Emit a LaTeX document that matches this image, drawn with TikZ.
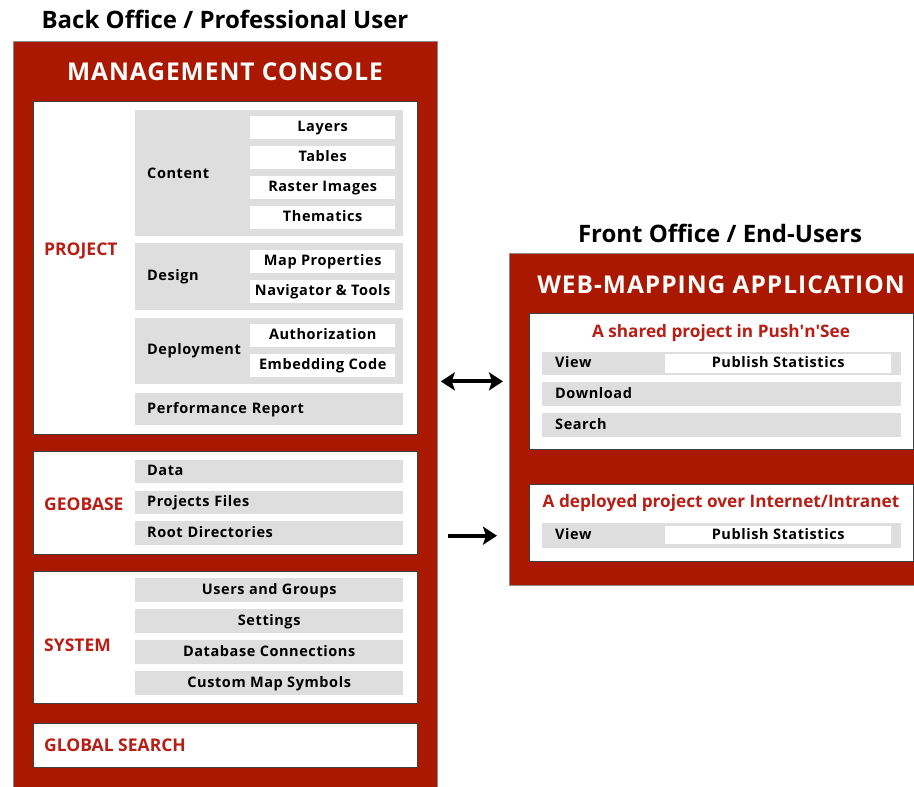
\documentclass[tikz,border=0pt]{standalone}
\usepackage{fontspec}
\setmainfont{Open Sans}
\newfontfamily\itemfont{Open Sans}[LetterSpace=4]
\usetikzlibrary{arrows.meta}

\definecolor{consolered}{RGB}{170,24,0}
\definecolor{labelred}{RGB}{183,30,22}
\definecolor{bargray}{RGB}{222,222,222}

\newcommand{\itemsize}{\itemfont\bfseries\fontsize{14.5pt}{17pt}\selectfont}
\newcommand{\titlesize}{\bfseries\fontsize{24pt}{28pt}\selectfont}
\newcommand{\headsize}{\itemfont\bfseries\fontsize{24.5pt}{28pt}\selectfont}
\newcommand{\subtitlesize}{\bfseries\fontsize{17.2pt}{20pt}\selectfont}

\tikzset{
  redpanel/.style={fill=consolered, draw=black!45, line width=0.8pt, inner sep=0pt, anchor=north west},
  whitepanel/.style={fill=white, draw=black!75, line width=0.8pt, inner sep=0pt, anchor=north west},
  graybar/.style={fill=bargray, inner sep=0pt, anchor=north west, font=\itemsize,
                  text height=11pt, text depth=3pt},
  barleft/.style={graybar, text width=#1, inner xsep=12pt, align=left},
  itembox/.style={fill=white, inner sep=0pt, anchor=north west, font=\itemsize,
                  text height=11pt, text depth=3pt},
  barlabel/.style={anchor=west, inner sep=0pt, font=\itemsize},
  sectlabel/.style={anchor=west, inner sep=0pt, text=labelred, font=\bfseries\fontsize{17.5pt}{20pt}\selectfont},
  bigarrow/.style={line width=4pt, -{Stealth[length=14pt,width=18pt,inset=3pt]}},
}

\begin{document}
\begin{tikzpicture}[x=1pt,y=-1pt]
  \useasboundingbox (0,0) rectangle (914,787);

  % back office
  \node[font=\titlesize] (backtitle) at (225,19) {Back Office / Professional User};
  \node[redpanel, minimum width=424pt, minimum height=760pt] (console) at (13,41) {};
  \node[font=\headsize, text=white] (consoletitle) at (225,72) {MANAGEMENT CONSOLE};

  \node[whitepanel, minimum width=384pt, minimum height=333pt] (project) at (33,101) {};
  \node[sectlabel] (projectlabel) at (44,251) {PROJECT};

  \node[graybar, minimum width=268pt, minimum height=126pt] (content) at (135,110) {};
  \node[barlabel] (contentlabel) at ([xshift=12pt]content.west) {Content};
  \node[itembox, minimum width=145pt, minimum height=23pt] (layers) at (250,116) {Layers};
  \node[itembox, minimum width=145pt, minimum height=23pt] (tables) at (250,146) {Tables};
  \node[itembox, minimum width=145pt, minimum height=23pt] (raster) at (250,176) {Raster Images};
  \node[itembox, minimum width=145pt, minimum height=23pt] (thematics) at (250,206) {Thematics};

  \node[graybar, minimum width=268pt, minimum height=67pt] (design) at (135,243) {};
  \node[barlabel] (designlabel) at ([xshift=12pt]design.west) {Design};
  \node[itembox, minimum width=145pt, minimum height=23pt] (mapprops) at (250,250) {Map Properties};
  \node[itembox, minimum width=145pt, minimum height=23pt] (navtools) at (250,280) {Navigator \& Tools};

  \node[graybar, minimum width=268pt, minimum height=66pt] (deploy) at (135,318) {};
  \node[barlabel] (deploylabel) at ([xshift=12pt]deploy.west) {Deployment};
  \node[itembox, minimum width=145pt, minimum height=23pt] (authz) at (250,324) {Authorization};
  \node[itembox, minimum width=145pt, minimum height=23pt] (embed) at (250,354) {Embedding Code};

  \node[barleft=244pt, minimum height=32pt] (perf) at (135,393) {Performance Report};

  \node[whitepanel, minimum width=384pt, minimum height=103pt] (geobase) at (33,451) {};
  \node[sectlabel] (geobaselabel) at (44,504) {GEOBASE};
  \node[barleft=244pt, minimum height=23pt] (data) at (135,460) {Data};
  \node[barleft=244pt, minimum height=23pt] (projfiles) at (135,491) {Projects Files};
  \node[barleft=244pt, minimum height=24pt] (rootdirs) at (135,521) {Root Directories};

  \node[whitepanel, minimum width=384pt, minimum height=132pt] (system) at (33,571) {};
  \node[sectlabel] (systemlabel) at (44,645) {SYSTEM};
  \node[graybar, minimum width=268pt, minimum height=24pt] (users) at (135,578) {Users and Groups};
  \node[graybar, minimum width=268pt, minimum height=24pt] (settings) at (135,609) {Settings};
  \node[graybar, minimum width=268pt, minimum height=24pt] (dbconn) at (135,640) {Database Connections};
  \node[graybar, minimum width=268pt, minimum height=24pt] (symbols) at (135,671) {Custom Map Symbols};

  \node[whitepanel, minimum width=384pt, minimum height=44pt] (search) at (33,723) {};
  \node[sectlabel] (searchlabel) at (44,745) {GLOBAL SEARCH};

  % front office
  \node[font=\titlesize] (fronttitle) at (720,233) {Front Office / End-Users};
  \node[redpanel, minimum width=410pt, minimum height=332pt] (webapp) at (509,253) {};
  \node[font=\headsize, text=white] (webtitle) at (721,285) {WEB-MAPPING APPLICATION};

  \node[whitepanel, minimum width=384pt, minimum height=136pt] (shared) at (529,313) {};
  \node[text=labelred, font=\subtitlesize] (sharedtitle) at (721,333) {A shared project in Push\textquotesingle n\textquotesingle See};
  \node[barleft=333pt, inner xsep=13pt, minimum height=23pt] (view) at (542,352) {View};
  \node[itembox, minimum width=226pt, minimum height=19pt] (publish) at (665,354) {Publish Statistics};
  \node[barleft=333pt, inner xsep=13pt, minimum height=24pt] (download) at (542,382) {Download};
  \node[barleft=333pt, inner xsep=13pt, minimum height=24pt] (websearch) at (542,413) {Search};

  \node[whitepanel, minimum width=384pt, minimum height=77pt] (deployed) at (529,484) {};
  \node[text=labelred, font=\subtitlesize] (deployedtitle) at (721,503) {A deployed project over Internet/Intranet};
  \node[barleft=333pt, inner xsep=13pt, minimum height=25pt] (viewtwo) at (542,523) {View};
  \node[itembox, minimum width=226pt, minimum height=18pt] (publishtwo) at (665,526) {Publish Statistics};

  \draw[bigarrow, {Stealth[length=14pt,width=18pt,inset=3pt]}-{Stealth[length=14pt,width=18pt,inset=3pt]}, shorten <=3pt, shorten >=6pt]
    (console.east |- shared.west) -- (webapp.west |- shared.west);
  \draw[bigarrow, shorten <=10pt, shorten >=12pt]
    (console.east |- viewtwo.west) -- (webapp.west |- viewtwo.west);

\end{tikzpicture}
\end{document}
